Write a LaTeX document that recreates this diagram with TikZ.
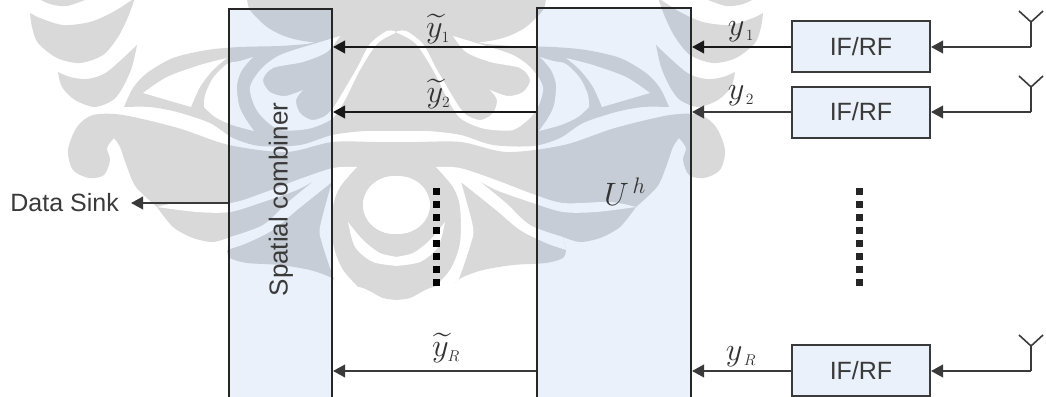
\documentclass[tikz,border=0pt]{standalone}
\usepackage{fontspec}
\usepackage{amsmath}
\setmainfont{Liberation Sans}
\usetikzlibrary{arrows.meta}
\definecolor{wmgray}{HTML}{D9D9D9}
\definecolor{wmblue}{HTML}{C6CDD6}
\definecolor{boxfill}{HTML}{EAF1FA}
\definecolor{ink}{HTML}{3A3A3A}
\newcommand{\wmhalf}[2]{%
  % feathers
  \fill[#1] plot coordinates {(37,-2)(50,4)(67,6)(90,-2)} -- cycle;
  \fill[#1] plot coordinates {(30,13)(40,18)(63,25)(90,22)(113,12)(135,-2)} -- plot coordinates {(135,-2)(128,17)(118,37)(103,55)(80,63)(57,58)(38,43)(32,27)(30,13)} -- cycle;
  \fill[#1] plot coordinates {(58,72)(70,77)(87,79)(107,72)(137,45)} -- plot coordinates {(137,45)(132,67)(123,87)(113,100)(95,107)(75,100)(62,87)(58,72)} -- cycle;
  % upper mass: top, tongue, feather outline, down to the white strip
  \fill[#1] (398,-2) -- (247,-2) -- plot coordinates {(247,-2)(250,10)(267,27)(287,37)(313,42)(340,36)} -- (307,44) -- plot coordinates {(307,44)(280,46)(240,47)(207,50)(173,58)(147,73)(133,88)(124,107)} -- plot coordinates {(124,107)(150,107)(177,112)(210,123)(233,138)(260,146)(300,145)(332,135)(365,131)(398,131)} -- cycle;
  % lower mass: band, scroll, lower feathers, central drop
  \fill[#1] (398,142) -- plot coordinates {(398,142)(375,142)(332,142)(286,152)(229,145)(178,128)(123,115)(93,115)(77,127)(68,150)(73,170)(89,178)(104,175)(110,160)(107,148)(114,138)} -- plot coordinates {(114,138)(120,147)(127,167)(136,187)(157,207)} -- plot coordinates {(157,207)(173,227)(193,238)(213,242)(230,237)} -- (227,250) -- plot coordinates {(227,250)(230,258)(247,263)(280,265)(310,270)(330,277)(338,283)} -- plot coordinates {(338,283)(363,288)(383,298)(398,300)} -- cycle;
  % openings
  \fill[#2] plot coordinates {(143,93)(167,77)(200,65)(227,58)} -- plot coordinates {(227,58)(213,70)(200,87)(191,107)} -- plot coordinates {(191,107)(167,100)(143,93)} -- cycle;
  \fill[#2] plot coordinates {(253,57)(240,61)(227,64)(213,78)(205,95)(204,107)} -- plot coordinates {(204,107)(215,117)(232,125)(254,131)} -- plot coordinates {(254,131)(245,118)(239,105)(237,85)(242,70)(253,57)} -- cycle;
  \fill[#2] plot coordinates {(307,46)(280,55)(262,68)(250,87)(255,107)(265,120)(280,130)(300,130)(315,127)(333,118)(345,100)(360,70)(378,43)(398,32)} -- plot coordinates {(398,32)(387,31)(370,44)(357,68)(340,97)(333,108)(325,116)(312,120)(300,113)(296,100)(303,90)} -- plot coordinates {(303,90)(285,96)(270,92)(263,80)(273,68)(303,62)(327,52)(340,36)} -- cycle;
  \fill[#2] plot coordinates {(157,207)(183,202)(230,203)(263,193)(297,180)(333,168)(357,167)} -- plot coordinates {(357,167)(340,187)(333,207)(333,243)(343,270)(365,294)} -- plot coordinates {(365,294)(338,283)(332,273)(322,243)(320,227)(332,182)} -- plot coordinates {(332,182)(297,210)(273,230)(247,243)(227,250)} -- (230,237) -- plot coordinates {(230,237)(263,225)(287,203)(315,180)} -- plot coordinates {(315,180)(297,190)(263,202)(230,212)(197,212)(157,207)} -- cycle;
  % circle and crescent
  \fill[#2] (395,205) ellipse [x radius=32, y radius=29];
  \fill[#2] plot coordinates {(348,222)(355,247)(373,262)(398,266)} -- plot coordinates {(398,257)(380,253)(363,240)(348,222)} -- cycle;
}
\newcommand{\wmwhole}[2]{%
  \begin{scope}\wmhalf{#1}{#2}\end{scope}
  \begin{scope}[xshift=793pt,xscale=-1]\wmhalf{#1}{#2}\end{scope}
  \fill[#2] (395,205) ellipse [x radius=32, y radius=29];
}
\tikzset{
  x=1pt,y=-1pt,
  every plot/.style={smooth,tension=.5},
  bigbox/.style={draw=black!85,line width=2pt,inner sep=0pt},
  rfbox/.style={draw=ink,line width=2pt,fill=boxfill,inner sep=0pt,minimum width=138pt,minimum height=51pt,font=\fontsize{25}{25}\selectfont,text=ink},
  arr/.style={draw=ink,line width=2.2pt,-{Triangle[length=12pt,width=12.5pt]}},
  arrd/.style={arr,draw=black!90},
  wire/.style={draw=ink,line width=1.6pt},
  dots/.style={line width=6.5pt,dash pattern=on 6.5pt off 6.46pt},
  lab/.style={inner sep=0pt,text=black!80,scale=1.3,font=\fontsize{24}{24}\selectfont},
  plain/.style={inner sep=0pt,text=ink,font=\fontsize{25}{25}\selectfont},
}
\begin{document}
\begin{tikzpicture}
\useasboundingbox (0,0) rectangle (1046,396);
\clip (0,0) rectangle (1046,396);
\fill[white] (0,0) rectangle (1046,396);
\wmwhole{wmgray}{white}
\begin{scope}
  \clip (229,9) rectangle (332,400) (537,8) rectangle (691,400);
  \fill[boxfill] (200,0) rectangle (700,400);
  \wmwhole{wmblue}{boxfill}
\end{scope}
% blocks
\node[bigbox,minimum width=103pt,minimum height=392pt] (comb) at (280.5,205) {};
\node[bigbox,minimum width=154pt,minimum height=392pt] (unit) at (614,204) {};
\node[rfbox] (rfa) at (861,46.5) {IF/RF};
\node[rfbox] (rfb) at (861,112) {IF/RF};
\node[rfbox] (rfc) at (861,370.5) {IF/RF};
\node[inner sep=0pt,rotate=90,text=ink,font=\fontsize{26}{26}\selectfont] (combtxt) at (281,199.5) {Spatial combiner};
\node[plain,anchor=east] (sink) at (119,203) {Data Sink};
\node[lab] (uh) at (625,192) {$U^{\,h}$};
% labels
\node[lab] (ty1) at (438,29) {$\widetilde{y}_{\scriptscriptstyle 1}$};
\node[lab] (ty2) at (438.5,94) {$\widetilde{y}_{\scriptscriptstyle 2}$};
\node[lab] (tyr) at (446,348) {$\widetilde{y}_{\scriptscriptstyle R}$};
\node[lab] (ya) at (741,32) {$y_{\scriptscriptstyle\,1}$};
\node[lab] (yb) at (741,96) {$y_{\scriptscriptstyle\,2}$};
\node[lab] (yc) at (741,357) {$y_{\scriptscriptstyle\,R}$};
% antennas
\coordinate (anta) at (1031,47);
\coordinate (antb) at (1031,112);
\coordinate (antc) at (1031,371);
\coordinate (topa) at (1031,22);
\coordinate (topb) at (1031,87);
\coordinate (topc) at (1031,346);
\draw[wire] (topa) -- ++(-12,-11) (topa) -- ++(12,-11);
\draw[wire] (topb) -- ++(-12,-11) (topb) -- ++(12,-11);
\draw[wire] (topc) -- ++(-12,-11) (topc) -- ++(12,-11);
\draw[wire] (topa) -- (anta);
\draw[wire] (topb) -- (antb);
\draw[wire] (topc) -- (antc);
\draw[arr] (anta) -- (rfa.east |- anta);
\draw[arr] (antb) -- (rfb.east |- antb);
\draw[arr] (antc) -- (rfc.east |- antc);
% connectors
\draw[arrd] (rfa.west |- anta) -- (unit.east |- anta);
\draw[arr] (rfb.west |- antb) -- (unit.east |- antb);
\draw[arr] (rfc.west |- antc) -- (unit.east |- antc);
\draw[arrd] (unit.west |- anta) -- (comb.east |- anta);
\draw[arrd] (unit.west |- antb) -- (comb.east |- antb);
\draw[arr] (unit.west |- antc) -- (comb.east |- antc);
\draw[arr] (comb.west |- sink) -- ([xshift=12pt]sink.east);
% dotted continuation marks
\coordinate (dota) at (436.5,188.4);
\coordinate (dotb) at (436.5,286);
\coordinate (dotc) at (859.3,188.4);
\coordinate (dotd) at (859.3,286);
\draw[dots,black] (dota) -- (dotb);
\draw[dots,black!85] (dotc) -- (dotd);
\end{tikzpicture}
\end{document}
